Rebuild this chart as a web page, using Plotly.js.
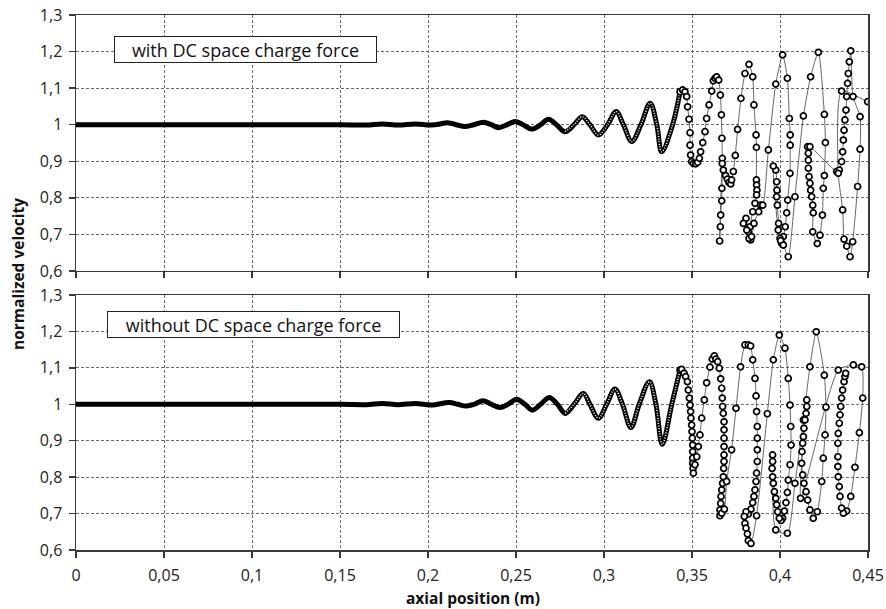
<!DOCTYPE html>
<html>
<head>
<meta charset="utf-8">
<script src="https://cdn.plot.ly/plotly-3.0.1.min.js"></script>
<style>
html,body{margin:0;padding:0;background:#fff;}
#chart{width:886px;height:609px;}
</style>
</head>
<body>
<div id="chart"></div>
<script>
// ---- Data ----
// Upper panel: with DC space charge force (dense, regular part)
var topDenseX = [0, 0.05, 0.1, 0.15, 0.165, 0.174, 0.183, 0.193, 0.202, 0.2116, 0.216, 0.221, 0.226, 0.2315, 0.236, 0.240, 0.245, 0.2495, 0.254, 0.2589, 0.264, 0.2684, 0.273, 0.2779, 0.283, 0.2877, 0.292, 0.2968, 0.302, 0.3069, 0.311, 0.3158, 0.321, 0.3262, 0.330, 0.3328, 0.339, 0.3432];
var topDenseV = [1, 1, 1, 1, 0.999, 1.002, 0.999, 1.002, 0.999, 1.005, 1.0, 0.995, 1.0, 1.007, 1.0, 0.992, 1.0, 1.009, 1.0, 0.988, 1.0, 1.015, 1.0, 0.981, 1.0, 1.022, 1.0, 0.972, 1.0, 1.036, 1.0, 0.954, 1.0, 1.059, 1.0, 0.926, 1.0, 1.090];

// Upper panel: irregular part (points in the order they are joined)
var topChaosX = [0.3432, 0.3447, 0.3460, 0.3470, 0.3475, 0.3483, 0.3489, 0.3489, 0.3492, 0.3498, 0.3508, 0.3521, 0.3532, 0.3542, 0.3549, 0.3561, 0.3574, 0.3583, 0.3597, 0.3612, 0.3621, 0.3631, 0.3640, 0.3652, 0.3661, 0.3667, 0.3670, 0.3672, 0.3670, 0.3669, 0.3663, 0.3661, 0.3657,
  0.3672, 0.3678, 0.3691, 0.3701, 0.3710, 0.3720, 0.3725, 0.3735, 0.3746, 0.3759, 0.3778, 0.3801, 0.3824, 0.3845, 0.3852, 0.3864, 0.3866, 0.3866, 0.3867, 0.3869, 0.3867, 0.3858, 0.3845, 0.3830, 0.3833, 0.3820, 0.3807, 0.3792, 0.3811, 0.3824, 0.3839, 0.3852, 0.3879, 0.3890, 0.3902,
  0.3934, 0.3976, 0.4015, 0.4042, 0.4053, 0.4058, 0.4058, 0.4057, 0.4044, 0.4038, 0.4030, 0.4019, 0.4009, 0.4000, 0.3992, 0.3985, 0.3981, 0.3983, 0.3981, 0.3976, 0.3962, 0.3990, 0.4004, 0.4019, 0.4047,
  0.4085, 0.4133, 0.4174, 0.4218, 0.4252, 0.4258, 0.4252, 0.4246, 0.4241, 0.4227, 0.4212, 0.4186, 0.4189, 0.4186, 0.4180, 0.4174, 0.4170, 0.4165, 0.4161, 0.4161, 0.4161, 0.4157, 0.4170,
  0.4322, 0.4337, 0.4350, 0.4356, 0.4360, 0.4364, 0.4369, 0.4375, 0.4379, 0.4384, 0.4388, 0.4394, 0.4402, 0.4415, 0.4455, 0.4455, 0.4441, 0.4413, 0.4398, 0.4379, 0.4364, 0.4356, 0.4331, 0.4350, 0.4498, 0.4520];
var topChaosV = [1.090, 1.095, 1.090, 1.077, 1.049, 1.015, 0.978, 0.944, 0.917, 0.899, 0.894, 0.893, 0.897, 0.908, 0.926, 0.951, 0.981, 1.017, 1.054, 1.092, 1.120, 1.127, 1.131, 1.122, 1.081, 1.027, 0.963, 0.908, 0.826, 0.792, 0.753, 0.721, 0.682,
  0.894, 0.876, 0.861, 0.851, 0.842, 0.838, 0.849, 0.872, 0.916, 0.987, 1.072, 1.140, 1.165, 1.131, 1.054, 0.972, 0.938, 0.849, 0.835, 0.821, 0.808, 0.785, 0.762, 0.721, 0.685, 0.707, 0.744, 0.730, 0.712, 0.689, 0.694, 0.730, 0.762, 0.780, 0.780,
  0.931, 1.111, 1.191, 1.127, 1.017, 0.972, 0.944, 0.867, 0.794, 0.759, 0.721, 0.694, 0.676, 0.689, 0.730, 0.780, 0.803, 0.821, 0.844, 0.876, 0.887, 0.712, 0.683, 0.671, 0.639,
  0.803, 1.024, 1.131, 1.198, 1.028, 0.951, 0.861, 0.826, 0.753, 0.698, 0.675, 0.707, 0.759, 0.780, 0.803, 0.821, 0.840, 0.858, 0.881, 0.903, 0.922, 0.940, 0.940,
  0.872, 0.876, 0.899, 0.926, 0.958, 0.985, 1.013, 1.040, 1.077, 1.113, 1.140, 1.172, 1.202, 1.077, 1.022, 0.933, 0.831, 0.680, 0.639, 0.668, 0.687, 0.767, 0.867, 1.092, 1.063, 1.062];

// Lower panel: without DC space charge force (dense, regular part)
var botDenseX = [0, 0.05, 0.1, 0.15, 0.165, 0.174, 0.183, 0.193, 0.202, 0.212, 0.217, 0.2215, 0.226, 0.2314, 0.236, 0.2409, 0.2455, 0.2504, 0.255, 0.2593, 0.264, 0.2689, 0.2735, 0.2780, 0.283, 0.2883, 0.292, 0.2968, 0.3015, 0.3062, 0.3105, 0.3153, 0.320, 0.3258, 0.3295, 0.3331, 0.3385, 0.3432];
var botDenseV = [1, 1, 1, 1, 0.999, 1.002, 0.999, 1.002, 0.998, 1.005, 1.0, 0.995, 1.0, 1.010, 1.0, 0.991, 1.0, 1.014, 1.0, 0.984, 1.0, 1.019, 1.0, 0.975, 1.0, 1.030, 1.0, 0.962, 1.0, 1.042, 1.0, 0.936, 1.0, 1.062, 1.0, 0.890, 1.0, 1.094];

// Lower panel: irregular part
var botChaosX = [0.3432, 0.3441, 0.3455, 0.3464, 0.3474, 0.3479, 0.3485, 0.3489, 0.3492, 0.3494, 0.3498, 0.3500, 0.3502, 0.3504, 0.3504, 0.3504, 0.3504, 0.3506, 0.3508, 0.3517, 0.3527, 0.3536, 0.3545, 0.3555, 0.3570, 0.3583, 0.3602, 0.3615, 0.3627, 0.3636, 0.3646, 0.3655, 0.3663, 0.3669, 0.3672, 0.3674, 0.3678, 0.3682, 0.3682, 0.3682, 0.3682, 0.3682, 0.3682, 0.3680, 0.3678, 0.3674, 0.3669, 0.3665, 0.3663, 0.3659, 0.3659, 0.3669, 0.3684,
  0.3697, 0.3725, 0.3750, 0.3776, 0.3801, 0.3820, 0.3833, 0.3845, 0.3858, 0.3864, 0.3867, 0.3871, 0.3871, 0.3871, 0.3871, 0.3867, 0.3864, 0.3858, 0.3852, 0.3845, 0.3835, 0.3820, 0.3807, 0.3797, 0.3801, 0.3807, 0.3815, 0.3820, 0.3835, 0.3867,
  0.3928, 0.3962, 0.3996, 0.4028, 0.4047, 0.4057, 0.4061, 0.4063, 0.4057, 0.4047, 0.4042, 0.4034, 0.4025, 0.4015, 0.4006, 0.3996, 0.3987, 0.3981, 0.3976, 0.3968, 0.3962, 0.3958, 0.3955, 0.3958, 0.3958, 0.3976, 0.4042,
  0.4085, 0.4133, 0.4170, 0.4206, 0.4252, 0.4261, 0.4256, 0.4246, 0.4237, 0.4212, 0.4189, 0.4170, 0.4157, 0.4148, 0.4136, 0.4129, 0.4123, 0.4125, 0.4129, 0.4133, 0.4136, 0.4142, 0.4148, 0.4152, 0.4152, 0.4117,
  0.4331, 0.4417, 0.4464, 0.4470, 0.4451, 0.4426, 0.4402, 0.4379, 0.4360, 0.4350, 0.4341, 0.4337, 0.4331, 0.4329, 0.4329, 0.4329, 0.4331, 0.4337, 0.4341, 0.4345, 0.4350, 0.4356, 0.4364, 0.4369, 0.4373];
var botChaosV = [1.094, 1.096, 1.085, 1.076, 1.062, 1.039, 1.017, 0.998, 0.980, 0.962, 0.943, 0.925, 0.907, 0.888, 0.870, 0.852, 0.838, 0.824, 0.811, 0.834, 0.856, 0.884, 0.916, 0.962, 1.012, 1.059, 1.102, 1.124, 1.133, 1.124, 1.117, 1.099, 1.070, 1.044, 1.017, 0.994, 0.975, 0.952, 0.930, 0.907, 0.884, 0.861, 0.843, 0.824, 0.801, 0.783, 0.765, 0.747, 0.728, 0.710, 0.694, 0.701, 0.712,
  0.788, 0.875, 0.989, 1.103, 1.163, 1.163, 1.160, 1.122, 1.071, 1.023, 0.980, 0.939, 0.907, 0.875, 0.843, 0.811, 0.788, 0.765, 0.747, 0.730, 0.712, 0.699, 0.705, 0.692, 0.673, 0.660, 0.644, 0.626, 0.618, 0.694,
  0.974, 1.122, 1.190, 1.154, 1.071, 0.998, 0.939, 0.888, 0.834, 0.792, 0.758, 0.730, 0.707, 0.687, 0.681, 0.687, 0.705, 0.724, 0.742, 0.760, 0.783, 0.801, 0.824, 0.843, 0.861, 0.655, 0.646,
  0.783, 0.957, 1.103, 1.199, 1.080, 0.992, 0.916, 0.852, 0.788, 0.705, 0.687, 0.710, 0.737, 0.760, 0.783, 0.806, 0.838, 0.870, 0.893, 0.911, 0.934, 0.957, 0.975, 0.994, 1.012, 0.742,
  1.094, 1.108, 1.103, 1.017, 0.922, 0.827, 0.747, 0.707, 0.701, 0.715, 0.747, 0.774, 0.801, 0.829, 0.856, 0.893, 0.920, 0.948, 0.971, 0.994, 1.017, 1.039, 1.062, 1.076, 1.085];

var xTickVals = [0, 0.05, 0.1, 0.15, 0.2, 0.25, 0.3, 0.35, 0.4, 0.45];
var yTickVals = [0.6, 0.7, 0.8, 0.9, 1, 1.1, 1.2, 1.3];
var panelLabels = ["with DC space charge force", "without DC space charge force"];
var xTitle = "axial position (m)";
var yTitle = "normalized velocity";

// ---- Styles ----
var FONT = "Open Sans, Noto Sans, sans-serif";
var axisColor = "#3a3a3a";
var gridColor = "#6a6a6a";
var ringStart = 0.277; // from here on the individual markers become visible

function denseTrace(x, y, xa, ya) {
  return {x: x, y: y, xaxis: xa, yaxis: ya, mode: "lines", type: "scatter",
    line: {color: "#000", width: 5, shape: "spline", smoothing: 1.0},
    hoverinfo: "skip", showlegend: false};
}
// thin white dotted core over the later part, giving the chain-of-rings look
function ringCore(x, y, xa, ya) {
  var xs = [], ys = [];
  for (var i = 0; i < x.length; i++) { if (x[i] >= ringStart) { xs.push(x[i]); ys.push(y[i]); } }
  return {x: xs, y: ys, xaxis: xa, yaxis: ya, mode: "lines", type: "scatter",
    line: {color: "#fff", width: 1.6, shape: "spline", smoothing: 1.0, dash: "1px,1.6px"},
    hoverinfo: "skip", showlegend: false};
}
function chaosTrace(x, y, xa, ya) {
  return {x: x, y: y, xaxis: xa, yaxis: ya, mode: "lines+markers", type: "scatter",
    line: {color: "#555", width: 0.9, shape: "spline", smoothing: 0.6},
    marker: {symbol: "circle", size: 6, color: "#fff", line: {color: "#000", width: 1.7}},
    cliponaxis: true, hoverinfo: "skip", showlegend: false};
}

var data = [
  denseTrace(topDenseX, topDenseV, "x", "y"),
  ringCore(topDenseX, topDenseV, "x", "y"),
  chaosTrace(topChaosX, topChaosV, "x", "y"),
  denseTrace(botDenseX, botDenseV, "x2", "y2"),
  ringCore(botDenseX, botDenseV, "x2", "y2"),
  chaosTrace(botChaosX, botChaosV, "x2", "y2")
];

function xAxis(anchor, labels) {
  return {anchor: anchor, range: [0, 0.45], tickvals: xTickVals, showticklabels: labels,
    ticks: "outside", ticklen: 6, tickwidth: 1.5, tickcolor: axisColor,
    showline: true, linecolor: axisColor, linewidth: 1.5, mirror: true,
    showgrid: true, gridcolor: gridColor, gridwidth: 1, griddash: "3px,2px",
    zeroline: false, fixedrange: true, ticklabelstandoff: 4,
    tickfont: {family: FONT, size: 16, color: "#222"}};
}
function yAxis(anchor, domain) {
  return {anchor: anchor, domain: domain, range: [0.6, 1.3], tickvals: yTickVals,
    ticks: "outside", ticklen: 6, tickwidth: 1.5, tickcolor: axisColor,
    showline: true, linecolor: axisColor, linewidth: 1.5, mirror: true,
    showgrid: true, gridcolor: gridColor, gridwidth: 1, griddash: "3px,2px",
    zeroline: false, fixedrange: true, ticklabelstandoff: 3,
    tickfont: {family: FONT, size: 16, color: "#222"}};
}

var layout = {
  width: 886, height: 609,
  margin: {l: 76, r: 18, t: 15, b: 59},
  paper_bgcolor: "#fff", plot_bgcolor: "#fff",
  separators: ", ",
  showlegend: false,
  xaxis: xAxis("y", false),
  yaxis: yAxis("x", [0.5215, 1]),
  xaxis2: xAxis("y2", true),
  yaxis2: yAxis("x2", [0, 0.4766]),
  annotations: [
    {text: panelLabels[0], xref: "x", yref: "y", x: 0.0963, y: 1.206, showarrow: false,
      width: 259, height: 23,
      font: {family: FONT, size: 18, color: "#111"}, bgcolor: "#fff",
      bordercolor: "#222", borderwidth: 1, borderpad: 1},
    {text: panelLabels[1], xref: "x2", yref: "y2", x: 0.1009, y: 1.219, showarrow: false,
      width: 289, height: 23,
      font: {family: FONT, size: 18, color: "#111"}, bgcolor: "#fff",
      bordercolor: "#222", borderwidth: 1, borderpad: 1},
    {text: "<b>" + yTitle + "</b>", xref: "paper", yref: "paper", x: -0.0732, y: 0.516,
      textangle: -90, showarrow: false, xanchor: "center", yanchor: "middle",
      font: {family: FONT, size: 15.5, color: "#111"}},
    {text: "<b>" + xTitle + "</b>", xref: "paper", yref: "paper", x: 0.501, y: -0.0897,
      showarrow: false, xanchor: "center", yanchor: "middle",
      font: {family: FONT, size: 15.5, color: "#111"}}
  ]
};

Plotly.newPlot("chart", data, layout, {staticPlot: true, displayModeBar: false});
</script>
</body>
</html>
